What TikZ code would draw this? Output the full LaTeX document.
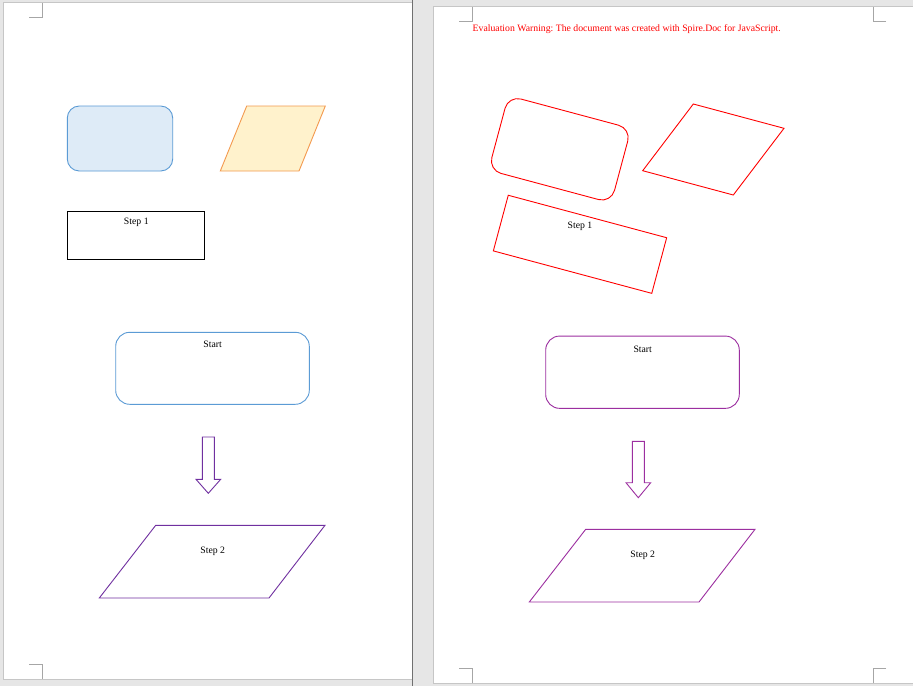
\documentclass[tikz,border=0pt]{standalone}
\usepackage{fontspec}
\setmainfont{Liberation Serif}
\frenchspacing
\definecolor{bggrey}{HTML}{E6E6E6}
\definecolor{pageedge}{HTML}{C6C6C6}
\definecolor{divider}{HTML}{707070}
\definecolor{cornermark}{HTML}{A6A6A6}
\definecolor{wblue}{HTML}{5B9BD5}
\definecolor{wbluefill}{HTML}{DEEBF7}
\definecolor{worange}{HTML}{F39A4F}
\definecolor{worangefill}{HTML}{FFF2CC}
\definecolor{wpurple}{HTML}{7030A0}
\definecolor{wmagenta}{HTML}{9C2FA0}
\definecolor{wred}{HTML}{FF0000}
\tikzset{
  shp/.style={line width=0.9pt, line join=miter},
  boxnode/.style={shp, inner sep=0pt, outer sep=0pt},
  txt/.style={font=\fontsize{9.75}{11}\selectfont, inner sep=0pt, anchor=base},
  cornerline/.style={draw=cornermark, line width=0.8pt},
}
\begin{document}
\begin{tikzpicture}[x=1pt,y=-1pt]
\useasboundingbox (0,0) rectangle (913,686);
\begin{scope}
\clip (0,0) rectangle (913,686);
% background and pages
\fill[bggrey] (0,0) rectangle (913,686);
\filldraw[fill=white, draw=pageedge, line width=0.8pt] (3,2.5) rectangle (412,679.3);
\filldraw[fill=white, draw=pageedge, line width=0.8pt] (433.3,6) rectangle (920,683.3);
\draw[divider, line width=1.2pt] (412.3,0) -- (412.3,686);
% corner marks, left page
\draw[cornerline] (29,17.3) -- (42.3,17.3) -- (42.3,3);
\draw[cornerline] (29,664) -- (42.3,664) -- (42.3,678.5);
% corner marks, right page
\draw[cornerline] (459,21) -- (472.3,21) -- (472.3,6.5);
\draw[cornerline] (886,21) -- (873,21) -- (873,6.5);
\draw[cornerline] (459,668.3) -- (472.3,668.3) -- (472.3,682.8);
\draw[cornerline] (886,668.3) -- (873,668.3) -- (873,682.8);
\end{scope}

% ---------- left page ----------
\node[boxnode, draw=wblue, fill=wbluefill, rounded corners=12pt,
      minimum width=105.4pt, minimum height=65pt] (lblue) at (120,138.5) {};
\coordinate (lpa) at (246.7,106);
\coordinate (lpb) at (325.3,106);
\coordinate (lpc) at (299,171);
\coordinate (lpd) at (220.3,171);
\filldraw[shp, draw=worange, fill=worangefill] (lpa) -- (lpb) -- (lpc) -- (lpd) -- cycle;

\node[boxnode, draw=black, minimum width=137pt, minimum height=47.7pt] (lstep1box) at (135.8,235.15) {};
\node[txt] (lstep1) at (136.3,224.3) {Step 1};

\node[boxnode, draw=wblue, rounded corners=14pt, minimum width=193.6pt, minimum height=72pt] (lstartbox) at (212.5,368.3) {};
\node[txt] (lstart) at (212.7,347.7) {Start};

\draw[shp, draw=wpurple] (202.3,437) -- (214.3,437) -- (214.3,479.3) -- (220.7,479.3)
  -- (208.3,493.3) -- (196,479.3) -- (202.3,479.3) -- cycle;

\coordinate (lsa) at (155.7,525.3);
\coordinate (lsb) at (325,525.3);
\coordinate (lsc) at (269,598);
\coordinate (lsd) at (99.3,598);
\draw[shp, draw=wpurple] (lsa) -- (lsb) -- (lsc) -- (lsd) -- cycle;
\node[txt] (lstep2) at (212.7,553) {Step 2};

% ---------- right page ----------
\node[txt, anchor=base west, text=wred] (warn) at (472.5,31) {Evaluation Warning: The document was created with Spire.Doc for JavaScript.};

\node[boxnode, draw=wred, rounded corners=13pt, minimum width=127pt, minimum height=77pt, rotate=-15] (rround) at (559.8,149.3) {};

\coordinate (rpa) at (693.3,104);
\coordinate (rpb) at (784,128.3);
\coordinate (rpc) at (733.3,195);
\coordinate (rpd) at (642.7,170.7);
\draw[shp, draw=wred] (rpa) -- (rpb) -- (rpc) -- (rpd) -- cycle;

\node[boxnode, draw=wred, minimum width=164pt, minimum height=57.6pt, rotate=-15] (rstep1box) at (580,244.3) {};
\node[txt] (rstep1) at (580,228.5) {Step 1};

\node[boxnode, draw=wmagenta, rounded corners=14pt, minimum width=193.6pt, minimum height=72.3pt] (rstartbox) at (642.5,372.2) {};
\node[txt] (rstart) at (642.7,352.4) {Start};

\draw[shp, draw=wmagenta] (632.3,441.3) -- (644.3,441.3) -- (644.3,482.7) -- (650.7,482.7)
  -- (638.3,497.7) -- (626,482.7) -- (632.3,482.7) -- cycle;

\coordinate (rsa) at (585.7,529.3);
\coordinate (rsb) at (755,529.3);
\coordinate (rsc) at (699,602);
\coordinate (rsd) at (529.3,602);
\draw[shp, draw=wmagenta] (rsa) -- (rsb) -- (rsc) -- (rsd) -- cycle;
\node[txt] (rstep2) at (642.7,557.3) {Step 2};
\end{tikzpicture}
\end{document}
